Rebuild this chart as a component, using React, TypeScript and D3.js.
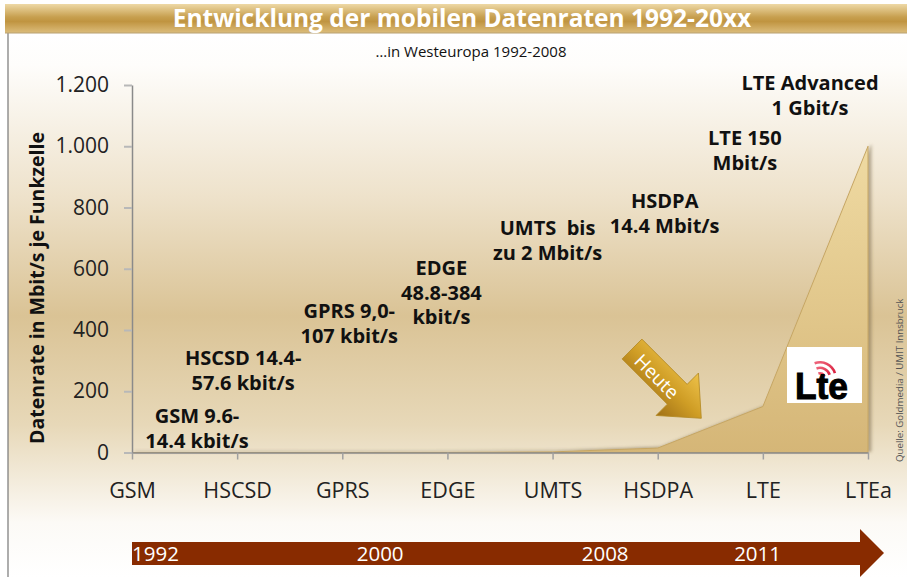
// @ts-nocheck
import React, { useEffect, useRef } from 'react';
import * as d3 from 'd3';

// Datenrate je Funkzelle in Mbit/s
const categories = ['GSM', 'HSCSD', 'GPRS', 'EDGE', 'UMTS', 'HSDPA', 'LTE', 'LTEa'];
const rates = [0.0144, 0.0576, 0.107, 0.384, 2, 14.4, 150, 1000];
const yTicks = [0, 200, 400, 600, 800, 1000, 1200];
const notes = [
  ['GSM 9.6-', '14.4 kbit/s'],
  ['HSCSD 14.4-', '57.6 kbit/s'],
  ['GPRS 9,0-', '107 kbit/s'],
  ['EDGE', '48.8-384', 'kbit/s'],
  ['UMTS  bis', 'zu 2 Mbit/s'],
  ['HSDPA', '14.4 Mbit/s'],
  ['LTE 150', 'Mbit/s'],
  ['LTE Advanced', '1 Gbit/s'],
];
const years = ['1992', '2000', '2008', '2011'];

// layout
const W = 907;
const H = 577;
const noteDx = [65, 6, 7, -6, -5, 7, -18, -58];
const noteY = [423, 365, 318, 275, 235, 208, 145, 90];
const yearAt = [0, 2.36, 4.5, 5.95];
const font = "'Open Sans', 'DejaVu Sans', sans-serif";

const de = d3.formatLocale({ decimal: ',', thousands: '.', grouping: [3], currency: ['', ' €'] });

export default function App() {
  const xAxisRef = useRef();
  const yAxisRef = useRef();

  const x = d3.scalePoint().domain(categories).range([132, 868]);
  const y = d3.scaleLinear().domain([0, 1200]).range([452.5, 85]);
  const idx = d3.scaleLinear().domain([0, categories.length - 1]).range([132, 868]);

  const area = d3.area()
    .x((d, i) => x(categories[i]))
    .y0(y(0))
    .y1(d => y(d));

  useEffect(() => {
    const ga = d3.select(yAxisRef.current);
    ga.call(d3.axisLeft(y).tickValues(yTicks).tickSize(8).tickSizeOuter(0).tickPadding(15).tickFormat(de.format(',d')));
    ga.attr('font-family', font).attr('font-size', 21);
    ga.select('.domain').attr('stroke', '#8a8a8a').attr('stroke-width', 1.5);
    ga.selectAll('.tick line').attr('stroke', '#b8b8b8').attr('stroke-width', 2);
    ga.selectAll('.tick text').attr('fill', '#222');

    const gx = d3.select(xAxisRef.current);
    gx.call(d3.axisBottom(x).tickSize(7).tickSizeOuter(0).tickPadding(23));
    gx.attr('font-family', font).attr('font-size', 21.5);
    gx.select('.domain').attr('stroke', '#8a8a8a').attr('stroke-width', 1.5);
    gx.selectAll('.tick line').attr('stroke', '#a0a0a0').attr('stroke-width', 1.5);
    gx.selectAll('.tick text').attr('fill', '#222');
  }, []);

  const logoArc = d3.arc();
  const tipY = 553;

  return (
    <svg width={W} height={H} style={{ position: 'absolute', left: 0, top: 0, fontFamily: font }}>
      <defs>
        <linearGradient id="bg" gradientUnits="userSpaceOnUse" x1="0" y1="33" x2="0" y2={H}>
          <stop offset="0" stopColor="#ffffff" />
          <stop offset="0.06" stopColor="#fefdfb" />
          <stop offset="0.3" stopColor="#eee2cb" />
          <stop offset="0.52" stopColor="#dac395" />
          <stop offset="0.72" stopColor="#e7d8b8" />
          <stop offset="0.9" stopColor="#fcfaf6" />
          <stop offset="1" stopColor="#ffffff" />
        </linearGradient>
        <linearGradient id="bar" x1="0" y1="0" x2="0" y2="1">
          <stop offset="0" stopColor="#eed9a6" />
          <stop offset="0.45" stopColor="#c79f4f" />
          <stop offset="0.6" stopColor="#c09440" />
          <stop offset="1" stopColor="#dcbd7c" />
        </linearGradient>
        <linearGradient id="fill" gradientUnits="userSpaceOnUse" x1="0" y1="150" x2="0" y2="453">
          <stop offset="0" stopColor="#efdaa2" />
          <stop offset="1" stopColor="#d5b677" />
        </linearGradient>
        <linearGradient id="gold" gradientUnits="userSpaceOnUse" x1="0" y1="-30" x2="0" y2="30">
          <stop offset="0" stopColor="#eec24a" />
          <stop offset="0.5" stopColor="#cf9d25" />
          <stop offset="1" stopColor="#a07016" />
        </linearGradient>
        <linearGradient id="red" x1="0" y1="0" x2="1" y2="1">
          <stop offset="0" stopColor="#f06a80" />
          <stop offset="1" stopColor="#d81c3a" />
        </linearGradient>
        <filter id="shadow" x="-20%" y="-20%" width="140%" height="140%">
          <feDropShadow dx="3" dy="-1" stdDeviation="1.5" floodColor="#6b5a3a" floodOpacity="0.45" />
        </filter>
      </defs>

      <rect x={8} y={33} width={W - 8} height={H - 33} fill="url(#bg)" />
      <line x1={8} x2={8} y1={33} y2={H} stroke="#777" strokeWidth={1.2} />
      <rect x={5} y={4} width={W - 5} height={29} fill="url(#bar)" />
      <line x1={5} x2={W} y1={33} y2={33} stroke="#b8a070" strokeWidth={1} />
      <text x={462} y={27} textAnchor="middle" fill="#fff" fontSize={24.5} fontWeight="bold">
        Entwicklung der mobilen Datenraten 1992-20xx
      </text>
      <text x={471} y={57} textAnchor="middle" fill="#111" fontSize={15}>
        …in Westeuropa 1992-2008
      </text>

      <path d={area(rates)} fill="url(#fill)" stroke="#c6a664" strokeWidth={1} filter="url(#shadow)" />

      <g ref={yAxisRef} transform="translate(132,0)" />
      <g ref={xAxisRef} transform={`translate(0,${y(0)})`} />

      <text transform={`translate(44,288) rotate(-90)`} textAnchor="middle" fontSize={19.5} fontWeight="bold" fill="#111">
        Datenrate in Mbit/s je Funkzelle
      </text>

      {notes.map((lines, i) => (
        <text key={categories[i]} x={x(categories[i]) + noteDx[i]} y={noteY[i]} textAnchor="middle"
          fontSize={20} fontWeight="bold" fill="#111" style={{ whiteSpace: 'pre' }}>
          {lines.map((t, j) => (
            <tspan key={j} x={x(categories[i]) + noteDx[i]} dy={j === 0 ? 0 : 24.5}>{t}</tspan>
          ))}
        </text>
      ))}

      {/* Heute-Pfeil */}
      <g transform="translate(632,349) rotate(45)">
        <path d="M0,-14 L64,-14 L64,-30 L98,0 L64,30 L64,14 L0,14 Z" fill="url(#gold)" stroke="#b48a25" strokeWidth={0.8} />
        <text x={37} y={2} dy="0.35em" textAnchor="middle" fill="#fff" fontSize={19}>Heute</text>
      </g>

      {/* LTE logo */}
      <g>
        <rect x={787} y={347} width={75} height={56} fill="#fff" />
        {[6, 11.5, 17].map(r => (
          <path key={r} transform="translate(820,378)" fill="url(#red)"
            d={logoArc({ innerRadius: r - 2.6, outerRadius: r, startAngle: -0.35, endAngle: 1.25 })} />
        ))}
        <text x={795} y={399} fontFamily="'Liberation Sans', Arial, sans-serif" fontWeight="bold" fontSize={36}
          textLength={53} lengthAdjust="spacingAndGlyphs" fill="#000" stroke="#000" strokeWidth={1}>Lte</text>
      </g>

      <text transform="translate(903,462) rotate(-90)" fontSize={9.7} fill="#555">
        Quelle: Goldmedia / UMIT Innsbruck
      </text>

      {/* Zeitachse */}
      <path d={`M${idx(0)},542 L860,542 L860,${tipY - 24} L884,${tipY} L860,${tipY + 24} L860,565 L${idx(0)},565 Z`}
        fill="#882b00" />
      {years.map((yr, i) => (
        <text key={yr} x={idx(yearAt[i])} y={561} textAnchor={i === 0 ? 'start' : 'middle'}
          fill="#fff" fontSize={20.5}>{yr}</text>
      ))}
    </svg>
  );
}
